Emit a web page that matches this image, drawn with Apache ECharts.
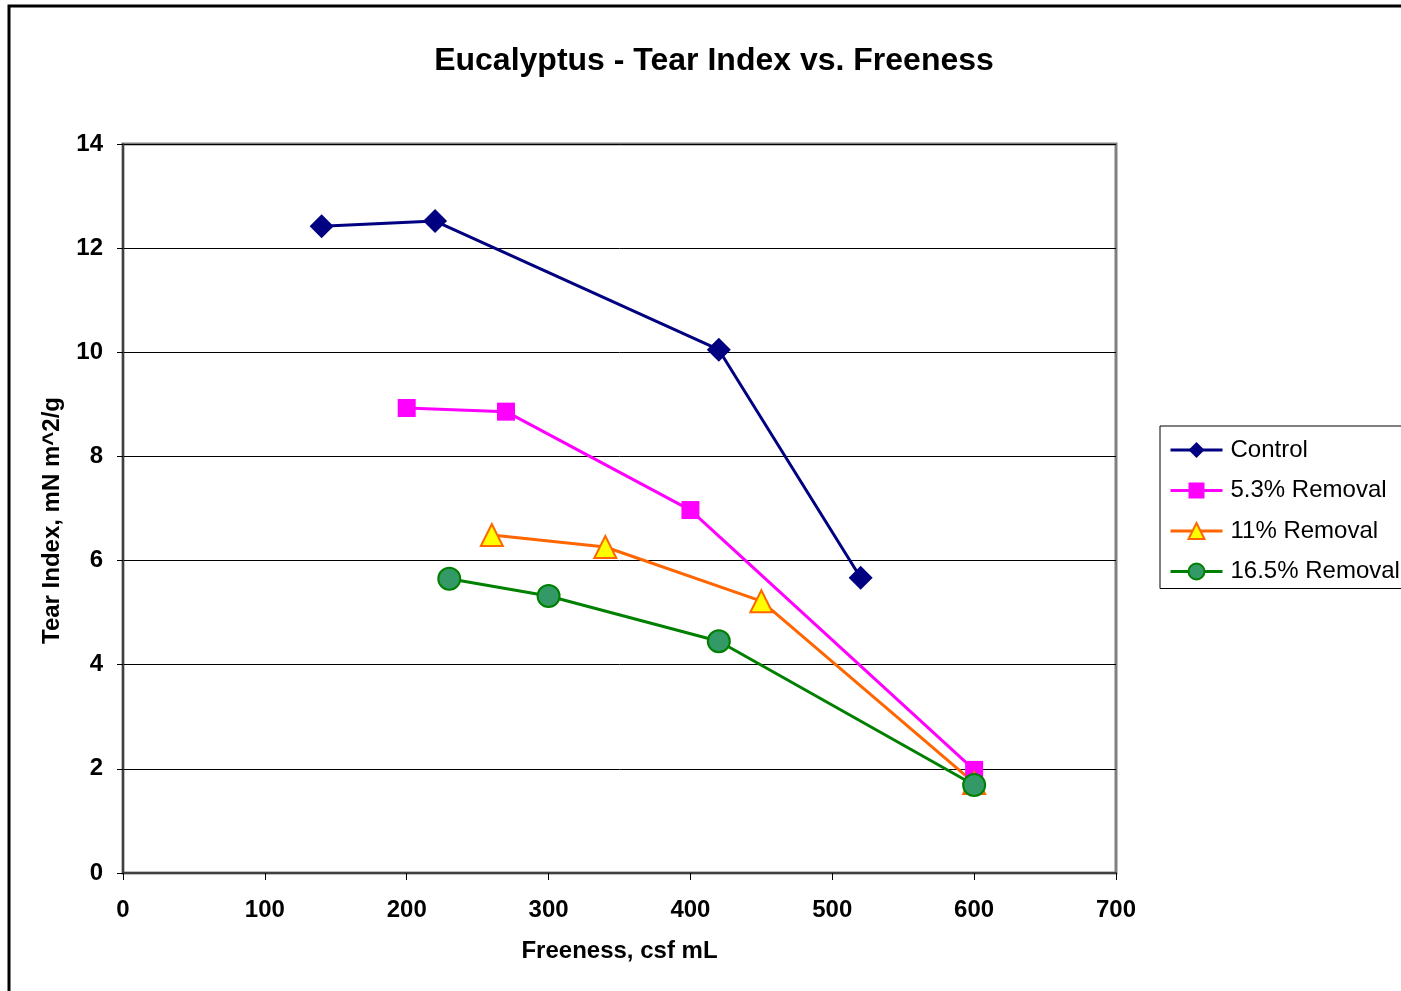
<!DOCTYPE html>
<html><head><meta charset="utf-8">
<script src="https://cdn.jsdelivr.net/npm/echarts@6/dist/echarts.min.js"></script>
<style>html,body{margin:0;padding:0;background:#fff}#c{width:1401px;height:991px}</style>
</head><body><div id="c"></div>
<script>
const seriesNames = ['Control', '5.3% Removal', '11% Removal', '16.5% Removal'];
const controlData = [[140, 12.42], [220, 12.52], [420, 10.05], [520, 5.67]];
const removal53Data = [[200, 8.93], [270, 8.86], [400, 6.97], [600, 1.98]];
const removal11Data = [[260, 6.49], [340, 6.26], [450, 5.22], [600, 1.73]];
const removal165Data = [[230, 5.65], [300, 5.32], [420, 4.45], [600, 1.69]];
const xTicks = [0, 100, 200, 300, 400, 500, 600, 700];
const yTicks = [0, 2, 4, 6, 8, 10, 12, 14];

const font = 'Liberation Sans, Arial, sans-serif';
const chart = echarts.init(document.getElementById('c'), null, {renderer: 'canvas'});
chart.setOption({
  animation: false,
  backgroundColor: '#fff',
  graphic: [{
    type: 'rect', shape: {x: 9, y: 6, width: 1420, height: 1020},
    style: {fill: 'none', stroke: '#000', lineWidth: 3}, z: -1
  }],
  title: {
    text: 'Eucalyptus - Tear Index vs. Freeness',
    left: 709, top: 40, textAlign: 'center',
    textStyle: {fontFamily: font, fontSize: 32, fontWeight: 'bold', color: '#000'}
  },
  grid: {left: 123, top: 144, right: 285, bottom: 118, show: true,
    borderColor: '#808080', borderWidth: 3, backgroundColor: '#fff'},
  legend: {
    orient: 'vertical', left: 1160, top: 426,
    itemWidth: 52, itemHeight: 20, itemGap: 16.5,
    padding: [12, 30, 5, 9],
    borderColor: '#000', borderWidth: 1,
    lineStyle: {width: 3},
    textStyle: {fontFamily: font, fontSize: 24, color: '#000', padding: [0, 0, 0, 3]},
    data: seriesNames
  },
  xAxis: {
    type: 'value', min: 0, max: 700, interval: 100,
    name: 'Freeness, csf mL', nameLocation: 'middle', nameGap: 66,
    nameTextStyle: {fontFamily: font, fontSize: 24, fontWeight: 'bold', color: '#000'},
    axisLine: {show: true, onZero: false, lineStyle: {color: '#404040', width: 2}},
    axisTick: {show: true, inside: false, length: 7, lineStyle: {color: '#000', width: 1}},
    axisLabel: {fontFamily: font, fontSize: 24, fontWeight: 'bold', color: '#000', margin: 25,
      formatter: v => xTicks.includes(v) ? String(v) : ''},
    splitLine: {show: false}
  },
  yAxis: {
    type: 'value', min: 0, max: 14, interval: 2,
    name: 'Tear Index, mN m^2/g', nameLocation: 'middle', nameGap: 59, nameRotate: 90,
    nameTextStyle: {fontFamily: font, fontSize: 24, fontWeight: 'bold', color: '#000', padding: [0, 24, 0, 0]},
    axisLine: {show: true, onZero: false, lineStyle: {color: '#404040', width: 2}},
    axisTick: {show: true, inside: false, length: 6, lineStyle: {color: '#000', width: 1}},
    axisLabel: {fontFamily: font, fontSize: 24, fontWeight: 'bold', color: '#000', margin: 20,
      formatter: v => yTicks.includes(v) ? String(v) : ''},
    splitLine: {show: true, lineStyle: {color: '#000', width: 1}}
  },
  series: [
    {name: seriesNames[0], type: 'line', data: controlData, symbol: 'diamond', symbolSize: 24,
      lineStyle: {color: '#000080', width: 3}, itemStyle: {color: '#000080', borderColor: '#000080', borderWidth: 0}},
    {name: seriesNames[1], type: 'line', data: removal53Data, symbol: 'rect', symbolSize: 18,
      lineStyle: {color: '#ff00ff', width: 3}, itemStyle: {color: '#ff00ff', borderColor: '#ff00ff', borderWidth: 0}},
    {name: seriesNames[2], type: 'line', data: removal11Data, symbol: 'triangle', symbolSize: 22,
      lineStyle: {color: '#ff6600', width: 3}, itemStyle: {color: '#ffff00', borderColor: '#ff6600', borderWidth: 2}},
    {name: seriesNames[3], type: 'line', data: removal165Data, symbol: 'circle', symbolSize: 22,
      lineStyle: {color: '#008000', width: 3}, itemStyle: {color: '#339966', borderColor: '#008000', borderWidth: 2}}
  ]
});
</script></body></html>
